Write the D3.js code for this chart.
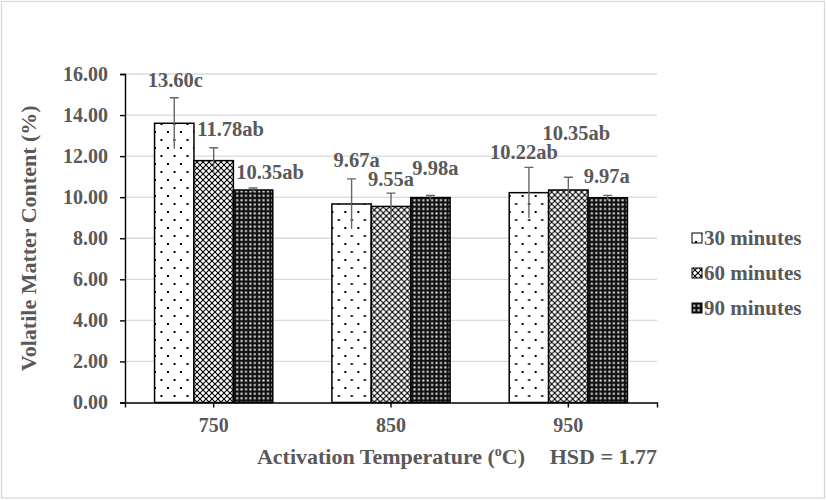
<!DOCTYPE html>
<html>
<head>
<meta charset="utf-8">
<script src="https://cdn.jsdelivr.net/npm/d3@7/dist/d3.min.js"></script>
<style>
  body { margin: 0; background: #fff; }
  text { font-family: "Liberation Serif", "Times New Roman", serif; font-weight: bold; fill: #595959; }
</style>
</head>
<body>
<div id="chart"></div>
<script>
// volatile matter vs activation temperature, grouped by time
var temps = ['750', '850', '950']
    , series = ['30 minutes', '60 minutes', '90 minutes']
    , means30 = [13.60, 9.67, 10.22]
    , means60 = [11.78, 9.55, 10.35]
    , means90 = [10.35, 9.98, 9.97]
    , err30 = [1.24, 1.22, 1.23]
    , err60 = [0.63, 0.65, 0.62]
    , err90 = [0.10, 0.10, 0.12]
    , letters30 = ['c', 'a', 'ab']
    , letters60 = ['ab', 'a', 'ab']
    , letters90 = ['ab', 'a', 'a']
    , yTicks = [0, 2, 4, 6, 8, 10, 12, 14, 16]
    , hsd = 1.77

// hand placed label offsets (dx, dy from bar centre / bar top), like the excel original
var labelNudge = [
    [[1, -36], [17, -25], [17, -11]],
    [[5, -37], [0, -20], [5, -23]],
    [[-5, -34], [8, -50], [-1, -15]]
]

var means = [means30, means60, means90]
    , errs = [err30, err60, err90]
    , letters = [letters30, letters60, letters90]
    , patternIds = ['pat30', 'pat60', 'pat90']

// note: "top" is taken by window.top, so plot edges get their own names
var width = 826, height = 500
    , plotLeft = 125, plotRight = 657, plotTop = 74, plotBottom = 402.5

var svg = d3.select('#chart').append('svg')
    .attr('width', width)
    .attr('height', height)

// frame
svg.append('rect')
    .attr('x', 1.5).attr('y', 1.5)
    .attr('width', 823).attr('height', 496.5)
    .attr('fill', '#fff')
    .attr('stroke', '#d9d9d9')
    .attr('stroke-width', 1.3)

var defs = svg.append('defs')

// 30 min: sparse staggered dots
var p30 = defs.append('pattern').attr('id', 'pat30')
    .attr('patternUnits', 'userSpaceOnUse').attr('width', 13).attr('height', 16)
p30.append('rect').attr('width', 13).attr('height', 16).attr('fill', '#fff')
p30.append('rect').attr('x', 3).attr('y', 3).attr('width', 2).attr('height', 2).attr('fill', '#000')
p30.append('rect').attr('x', 9.5).attr('y', 11).attr('width', 2).attr('height', 2).attr('fill', '#000')

// 60 min: diamond check
var p60 = defs.append('pattern').attr('id', 'pat60')
    .attr('patternUnits', 'userSpaceOnUse').attr('width', 6).attr('height', 6)
p60.append('rect').attr('width', 6).attr('height', 6).attr('fill', '#fff')
p60.append('path').attr('d', 'M0,0L6,6M6,0L0,6')
    .attr('stroke', '#000').attr('stroke-width', 1.1)

// 90 min: dark with small white squares
var p90 = defs.append('pattern').attr('id', 'pat90')
    .attr('patternUnits', 'userSpaceOnUse').attr('width', 4.4).attr('height', 4.4)
p90.append('rect').attr('width', 4.4).attr('height', 4.4).attr('fill', '#111')
p90.append('rect').attr('x', 1.2).attr('y', 1.2).attr('width', 2).attr('height', 2).attr('fill', '#eee')

var x0 = d3.scaleBand().domain(temps).range([plotLeft, plotRight]).paddingInner(0).paddingOuter(0)
var x1 = d3.scaleBand().domain(series).range([0, x0.bandwidth()]).paddingInner(0).paddingOuter(0.75)
var y = d3.scaleLinear().domain([0, 16]).range([plotBottom, plotTop])

// gridlines
svg.append('g').selectAll('line')
    .data(yTicks.slice(1))
    .enter().append('line')
    .attr('x1', plotLeft).attr('x2', plotRight)
    .attr('y1', function (d) { return y(d) })
    .attr('y2', function (d) { return y(d) })
    .attr('stroke', '#d9d9d9')
    .attr('stroke-width', 1.3)

// bars
var groups = svg.append('g').selectAll('g')
    .data(temps)
    .enter().append('g')
    .attr('transform', function (d) { return 'translate(' + x0(d) + ',0)' })

groups.each(function (t, i) {
    var g = d3.select(this)
    series.forEach(function (s, j) {
        var v = means[j][i], e = errs[j][i]
            , bx = x1(s), bw = x1.bandwidth(), cx = bx + bw / 2
        g.append('rect')
            .attr('x', bx).attr('y', y(v))
            .attr('width', bw).attr('height', y(0) - y(v))
            .attr('fill', 'url(#' + patternIds[j] + ')')
            .attr('stroke', '#000')
            .attr('stroke-width', 1.5)
        // error bar
        g.append('path')
            .attr('d', 'M' + cx + ',' + y(v - e) + 'V' + y(v + e)
                + 'M' + (cx - 4.5) + ',' + y(v + e) + 'H' + (cx + 4.5))
            .attr('fill', 'none')
            .attr('stroke', '#666')
            .attr('stroke-width', 1.4)
        g.append('text')
            .attr('x', cx + labelNudge[i][j][0])
            .attr('y', y(v) + labelNudge[i][j][1])
            .attr('text-anchor', 'middle')
            .style('font-size', '20.5px')
            .text(d3.format('.2f')(v) + letters[j][i])
    })
})

// axes
var yAxis = svg.append('g')
    .attr('transform', 'translate(' + plotLeft + ',0)')
    .call(d3.axisLeft(y).tickValues(yTicks).tickFormat(d3.format('.2f')).tickSize(5).tickSizeOuter(5).tickPadding(12))
var xAxis = svg.append('g')
    .attr('transform', 'translate(0,' + plotBottom + ')')
    .call(d3.axisBottom(x0).tickSize(5).tickSizeOuter(5).tickPadding(10))

svg.selectAll('.domain, .tick line').attr('stroke', '#000').attr('stroke-width', 1.4)
yAxis.selectAll('text').style('font-size', '20px').attr('fill', '#595959')
    .style('font-family', '"Liberation Serif", serif').style('font-weight', 'bold')
xAxis.selectAll('text').style('font-size', '20px').attr('fill', '#595959')
    .style('font-family', '"Liberation Serif", serif').style('font-weight', 'bold')

// axis titles
svg.append('text')
    .attr('transform', 'translate(36,' + ((plotTop + plotBottom) / 2) + ') rotate(-90)')
    .attr('text-anchor', 'middle')
    .style('font-size', '22px')
    .text('Volatile Matter Content (%)')

var xt = svg.append('text')
    .attr('x', (plotLeft + plotRight) / 2)
    .attr('y', 464)
    .attr('text-anchor', 'middle')
    .style('font-size', '22px')
xt.append('tspan').text('Activation Temperature (')
xt.append('tspan').attr('dy', -8).style('font-size', '14px').text('o')
xt.append('tspan').attr('dy', 8).text('C)')

svg.append('text')
    .attr('x', plotRight)
    .attr('y', 464)
    .attr('text-anchor', 'end')
    .style('font-size', '22px')
    .text('HSD = ' + hsd)

// legend
var legend = svg.append('g').selectAll('g')
    .data(series)
    .enter().append('g')
    .attr('transform', function (d, i) { return 'translate(692,' + (238 + i * 35) + ')' })
legend.append('rect')
    .attr('x', 0).attr('y', -5)
    .attr('width', 10).attr('height', 10)
    .attr('fill', function (d, i) { return 'url(#' + patternIds[i] + ')' })
    .attr('stroke', '#000')
    .attr('stroke-width', 1)
legend.append('text')
    .attr('x', 12)
    .attr('y', 7)
    .style('font-size', '21px')
    .text(function (d) { return d })
</script>
</body>
</html>
